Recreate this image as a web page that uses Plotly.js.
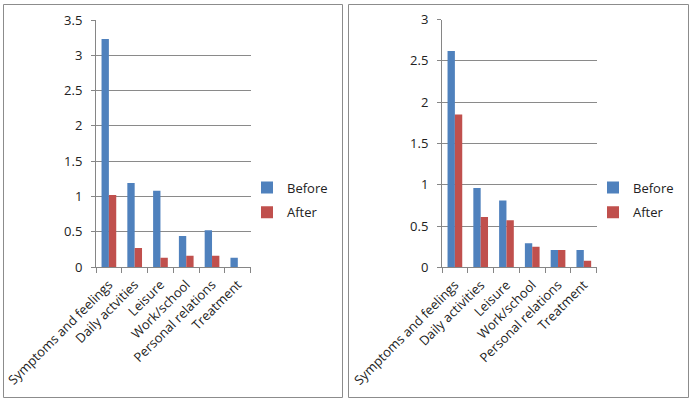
<!DOCTYPE html>
<html>
<head>
<meta charset="utf-8">
<script src="https://cdn.plot.ly/plotly-3.0.1.min.js"></script>
<style>html,body{margin:0;padding:0;background:#fff;}#chart{width:691px;height:402px;}</style>
</head>
<body>
<div id="chart"></div>
<script>
const categoriesLeft = ["Symptoms and feelings", "Daily actvities", "Leisure", "Work/school", "Personal relations", "Treatment"];
const categoriesRight = ["Symptoms and feelings", "Daily activities", "Leisure", "Work/school", "Personal relations", "Treatment"];
const beforeLeft = [3.23, 1.19, 1.08, 0.44, 0.52, 0.13];
const afterLeft  = [1.02, 0.27, 0.13, 0.16, 0.16, 0];
const beforeRight = [2.62, 0.96, 0.81, 0.29, 0.21, 0.21];
const afterRight  = [1.85, 0.61, 0.57, 0.25, 0.21, 0.08];
const yTicksLeft = [0, 0.5, 1, 1.5, 2, 2.5, 3, 3.5];
const yTicksRight = [0, 0.5, 1, 1.5, 2, 2.5, 3];

const BLUE = "#4F81BD", RED = "#C0504D";
const W = 691, H = 402;
const px = v => v / W, py = v => (H - v) / H;
const FONT = {family: "Open Sans, Liberation Sans, sans-serif", size: 13, color: "#222"};

const traces = [
  {type: "bar", x: categoriesLeft, y: beforeLeft, name: "Before", marker: {color: BLUE}, xaxis: "x", yaxis: "y", legend: "legend", legendgroup: "b"},
  {type: "bar", x: categoriesLeft, y: afterLeft, name: "After", marker: {color: RED}, xaxis: "x", yaxis: "y", legend: "legend", legendgroup: "a"},
  {type: "bar", x: categoriesRight, y: beforeRight, name: "Before", marker: {color: BLUE}, xaxis: "x2", yaxis: "y2", legend: "legend2", legendgroup: "b2"},
  {type: "bar", x: categoriesRight, y: afterRight, name: "After", marker: {color: RED}, xaxis: "x2", yaxis: "y2", legend: "legend2", legendgroup: "a2"}
];

const xCommon = {
  type: "category", tickangle: -45, showgrid: false, showline: true, linecolor: "#868686", linewidth: 1,
  ticks: "outside", tickson: "boundaries", ticklen: 5, tickcolor: "#868686", tickfont: FONT, ticklabelstandoff: 4, zeroline: false, fixedrange: true
};
const yCommon = {
  showgrid: true, gridcolor: "#8a8a8a", gridwidth: 1, showline: true, linecolor: "#868686", linewidth: 1,
  ticks: "outside", ticklen: 4, tickcolor: "#868686", tickfont: FONT, ticklabelstandoff: 6, zeroline: false, fixedrange: true
};
const legendCommon = {
  font: FONT, bgcolor: "rgba(0,0,0,0)", traceorder: "grouped", tracegroupgap: 5, itemwidth: 30,
  xanchor: "left", yanchor: "middle", orientation: "v"
};

const layout = {
  width: W, height: H, margin: {l: 0, r: 0, t: 0, b: 0},
  paper_bgcolor: "#fff", plot_bgcolor: "#fff",
  barmode: "group", bargap: 0.43, bargroupgap: 0,
  xaxis: Object.assign({}, xCommon, {domain: [px(96), px(250.7)], anchor: "y"}),
  yaxis: Object.assign({}, yCommon, {domain: [py(267), py(20)], range: [0, 3.5], tickvals: yTicksLeft, anchor: "x"}),
  xaxis2: Object.assign({}, xCommon, {domain: [px(442), px(596.7)], anchor: "y2"}),
  yaxis2: Object.assign({}, yCommon, {domain: [py(267.3), py(19.5)], range: [0, 3], tickvals: yTicksRight, anchor: "x2"}),
  legend: Object.assign({}, legendCommon, {x: px(247), y: py(200)}),
  legend2: Object.assign({}, legendCommon, {x: px(593), y: py(200)}),
  shapes: [
    {type: "rect", xref: "paper", yref: "paper", x0: px(3.5), x1: px(342.5), y0: py(397.5), y1: py(4.5), line: {color: "#8c8c8c", width: 1}},
    {type: "rect", xref: "paper", yref: "paper", x0: px(348.5), x1: px(688.5), y0: py(397.5), y1: py(4.5), line: {color: "#8c8c8c", width: 1}}
  ]
};

Plotly.newPlot("chart", traces, layout, {displayModeBar: false, staticPlot: true});
</script>
</body>
</html>
